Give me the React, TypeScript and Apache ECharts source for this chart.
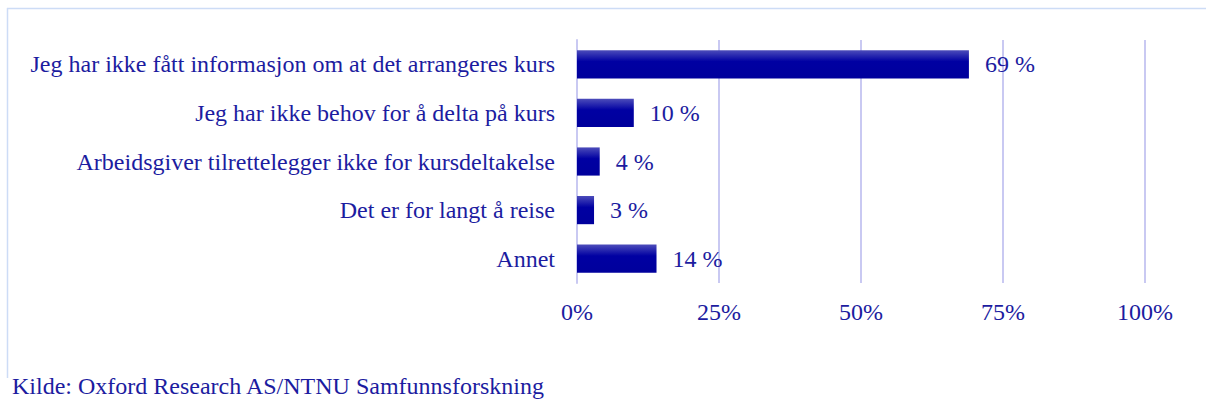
import React, { useEffect, useRef } from "react";
import * as echarts from "echarts";

const categories = [
  "Jeg har ikke fått informasjon om at det arrangeres kurs",
  "Jeg har ikke behov for å delta på kurs",
  "Arbeidsgiver tilrettelegger ikke for kursdeltakelse",
  "Det er for langt å reise",
  "Annet",
];
const values = [69, 10, 4, 3, 14];
const tickValues = [0, 25, 50, 75, 100];
const sourceText = "Kilde: Oxford Research AS/NTNU Samfunnsforskning";

const TEXT = "#1c1ca0";
const FONT = "'Liberation Serif', 'Times New Roman', serif";

export default function App() {
  const ref = useRef<HTMLDivElement>(null);
  useEffect(() => {
    if (!ref.current) return;
    const chart = echarts.init(ref.current, undefined, { renderer: "svg" });
    chart.setOption({
      animation: false,
      backgroundColor: "#ffffff",
      textStyle: { fontFamily: FONT },
      grid: { left: 577, right: 61, top: 40, bottom: 122, containLabel: false },
      xAxis: {
        type: "value",
        min: tickValues[0],
        max: tickValues[tickValues.length - 1],
        interval: 25,
        axisLine: { show: false },
        axisTick: { show: false },
        splitLine: { show: true, lineStyle: { color: "#c9c9f2", width: 2 } },
        axisLabel: {
          formatter: "{value}%",
          color: TEXT,
          fontFamily: FONT,
          fontSize: 24,
          margin: 17,
        },
      },
      yAxis: {
        type: "category",
        inverse: true,
        data: categories,
        axisLine: { show: true, lineStyle: { color: "#c9c9f2", width: 2 } },
        axisTick: { show: false },
        axisLabel: {
          color: TEXT,
          fontFamily: FONT,
          fontSize: 24,
          margin: 22,
        },
      },
      series: [
        {
          type: "bar",
          data: values,
          barWidth: "58%",
          itemStyle: {
            color: new echarts.graphic.LinearGradient(0, 0, 0, 1, [
              { offset: 0, color: "#4c4cba" },
              { offset: 0.4, color: "#0000a2" },
              { offset: 1, color: "#00009c" },
            ]),
          },
          label: {
            show: true,
            position: "right",
            distance: 16,
            formatter: "{c} %",
            color: TEXT,
            fontFamily: FONT,
            fontSize: 24,
          },
        },
      ],
      graphic: [
        {
          type: "line",
          shape: { x1: 7, y1: 8.5, x2: 1206, y2: 8.5 },
          style: { stroke: "#cddcf6", lineWidth: 1.5 },
        },
        {
          type: "line",
          shape: { x1: 7.5, y1: 8, x2: 7.5, y2: 378 },
          style: { stroke: "#cddcf6", lineWidth: 1.5 },
        },
        {
          type: "text",
          left: 12,
          top: 374,
          style: {
            text: sourceText,
            fill: TEXT,
            font: `24px ${FONT}`,
          },
        },
      ],
    });
    return () => chart.dispose();
  }, []);
  return (
    <div
      ref={ref}
      style={{ position: "fixed", left: 0, top: 0, width: 1206, height: 405 }}
    />
  );
}
